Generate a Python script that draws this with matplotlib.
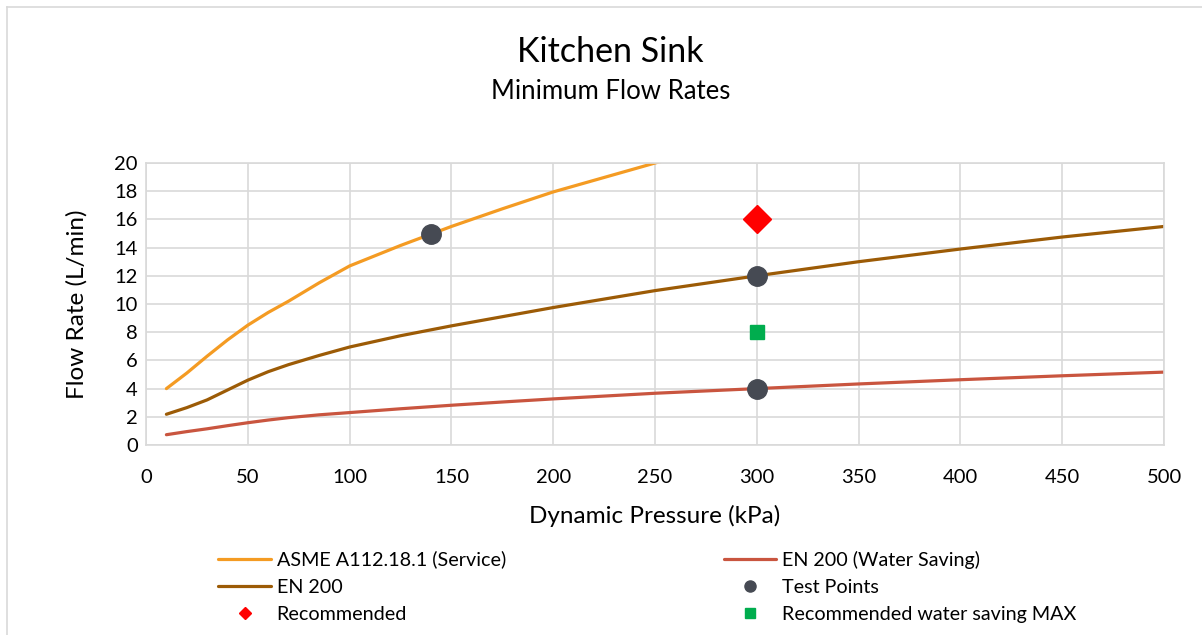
import matplotlib.pyplot as plt
from matplotlib.lines import Line2D

# ---- data ----
pressure = [10, 20, 30, 40, 50, 60, 70, 85, 100, 125, 150, 175, 200, 250, 300, 350, 400, 450, 500]
asme = [4.0, 5.1, 6.3, 7.45, 8.5, 9.4, 10.2, 11.5, 12.7, 14.15, 15.5, 16.75, 17.95, 20.0, 21.9, 23.7, 25.3, 26.9, 28.3]
en200 = [2.18, 2.65, 3.2, 3.9, 4.6, 5.2, 5.7, 6.35, 6.95, 7.75, 8.45, 9.1, 9.75, 10.95, 12.0, 13.0, 13.9, 14.75, 15.5]
en200_ws = [0.73, 0.95, 1.15, 1.37, 1.58, 1.77, 1.94, 2.14, 2.3, 2.57, 2.82, 3.05, 3.27, 3.67, 4.0, 4.33, 4.63, 4.91, 5.17]

test_x = [140, 300, 300]
test_y = [15, 12, 4]
rec_x, rec_y = [300], [16]
rec_ws_x, rec_ws_y = [300], [8]

x_ticks = list(range(0, 501, 50))
y_ticks = list(range(0, 21, 2))
######################################

plt.rcParams['font.family'] = ['Lato', 'DejaVu Sans']

fig = plt.figure(figsize=(12.02, 6.35), dpi=100)
ax = fig.add_axes([0.1215, 0.2992, 0.8469, 0.4441])

grid_c = '#D9D9D9'
ax.plot(pressure, asme, color='#F49B23', lw=2.3, solid_capstyle='round', solid_joinstyle='round', label='ASME A112.18.1 (Service)')
ax.plot(pressure, en200, color='#9C5B06', lw=2.3, solid_capstyle='round', solid_joinstyle='round', label='EN 200')
ax.plot(pressure, en200_ws, color='#C9553F', lw=2.3, solid_capstyle='round', solid_joinstyle='round', label='EN 200 (Water Saving)')
ax.plot(test_x, test_y, 'o', color='#464A53', ms=14, ls='none', label='Test Points', zorder=5)
ax.plot(rec_x, rec_y, 'D', color='#FF0000', ms=14, ls='none', label='Recommended', zorder=5)
ax.plot(rec_ws_x, rec_ws_y, 's', color='#00AD4E', ms=10, ls='none', label='Recommended water saving MAX', zorder=5)

ax.set_xlim(0, 500)
ax.set_ylim(0, 20)
ax.set_xticks(x_ticks)
ax.set_yticks(y_ticks)
ax.grid(True, color=grid_c, lw=1.2)
ax.set_axisbelow(True)
ax.tick_params(length=0, labelsize=14.5)
ax.tick_params(axis='x', pad=17)
ax.tick_params(axis='y', pad=6)
for s in ax.spines.values():
    s.set_color(grid_c)
    s.set_linewidth(1.2)

ax.set_xlabel('Dynamic Pressure (kPa)', fontsize=17.5, labelpad=14)
ax.set_ylabel('Flow Rate (L/min)', fontsize=17.5, labelpad=19)

fig.text(0.508, 0.918, 'Kitchen Sink', ha='center', va='center', fontsize=24.5)
fig.text(0.508, 0.856, 'Minimum Flow Rates', ha='center', va='center', fontsize=18.5)

# legend: column-major order so rows read like the original
h, l = ax.get_legend_handles_labels()
order = [0, 1, 4, 2, 3, 5]
leg = fig.legend([h[i] for i in order], [l[i] for i in order], ncol=2,
                 loc='center left', bbox_to_anchor=(0.167, 0.076),
                 frameon=False, fontsize=14.2, handlelength=2.65, handletextpad=0.3,
                 columnspacing=11.05, labelspacing=0.52)
for hd, ms in zip(leg.legend_handles, [0, 0, 6, 0, 8, 7]):
    if ms:
        hd.set_markersize(ms)

# chart frame (top and left edges visible)
fig.add_artist(Line2D([0.006, 1.0], [0.989, 0.989], color=grid_c, lw=1.2))
fig.add_artist(Line2D([0.006, 0.006], [0.0, 0.989], color=grid_c, lw=1.2))

fig.savefig('out.png', dpi=100)
